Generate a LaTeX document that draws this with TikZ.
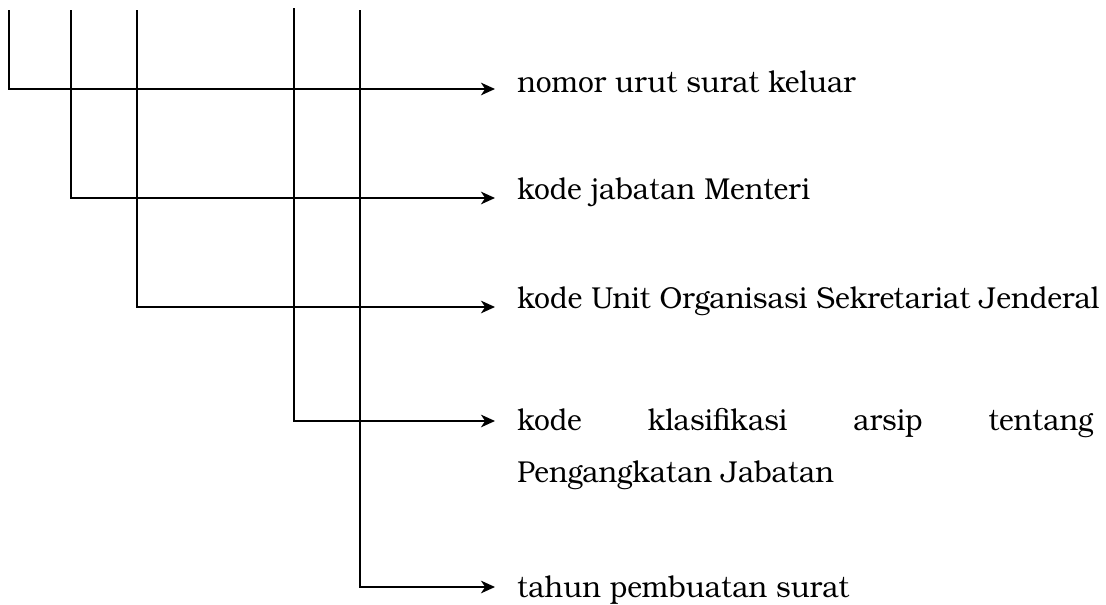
\documentclass[tikz,border=0pt]{standalone}
\usepackage{fontspec}
\setmainfont[FakeStretch=0.93]{TeX Gyre Bonum}
\usetikzlibrary{arrows.meta}

\tikzset{
  arr/.style={line width=1.1pt, -{Stealth[length=10pt,width=9pt,inset=3pt]}},
  lbl/.style={anchor=base west, inner sep=0pt, font=\fontsize{21.5}{37.6}\selectfont},
}

\begin{document}
\begin{tikzpicture}[x=0.025cm, y=-0.025cm]

% page size (in pixels of the scan):
\useasboundingbox (0,0) rectangle (1106,605);

% tops of the five stems:
\coordinate (t1) at (9,10);
\coordinate (t2) at (71,10);
\coordinate (t3) at (137,10);
\coordinate (t4) at (294,8);
\coordinate (t5) at (360,10);

% explanations:
\node[lbl] (urut) at (517,92) {nomor urut surat keluar};
\node[lbl] (jabatan) at (517,199) {kode jabatan Menteri};
\node[lbl] (unit) at (517,308) {\resizebox{14.55cm}{\height}{kode Unit Organisasi Sekretariat Jenderal}};
\node[lbl, text width=14.4cm, align=justify] (klas) at (517,430)
  {kode klasifikasi arsip tentang\linebreak Pengangkatan Jabatan};
\node[lbl] (tahun) at (517,597) {tahun pembuatan surat};

% stems and arrows:
\foreach \top/\lab/\dy in {t1/urut/3, t2/jabatan/1, t3/unit/1, t4/klas/9, t5/tahun/10}
  \draw[arr] (\top) |- ([shift={(-22,-\dy)}]\lab.base west);

\end{tikzpicture}
\end{document}
